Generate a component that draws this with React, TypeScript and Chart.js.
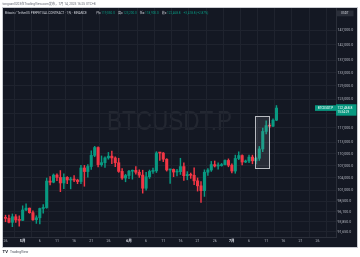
import React, { useEffect, useRef } from 'react';
import { Chart, registerables } from 'chart.js';
Chart.register(...registerables);

// Daily candles, 2025-04-26 .. 2025-07-14 (index = day offset)
const dates = [
  '04-26','04-27','04-28','04-29','04-30',
  '05-01','05-02','05-03','05-04','05-05','05-06','05-07','05-08','05-09','05-10',
  '05-11','05-12','05-13','05-14','05-15','05-16','05-17','05-18','05-19','05-20',
  '05-21','05-22','05-23','05-24','05-25','05-26','05-27','05-28','05-29','05-30','05-31',
  '06-01','06-02','06-03','06-04','06-05','06-06','06-07','06-08','06-09','06-10',
  '06-11','06-12','06-13','06-14','06-15','06-16','06-17','06-18','06-19','06-20',
  '06-21','06-22','06-23','06-24','06-25','06-26','06-27','06-28','06-29','06-30',
  '07-01','07-02','07-03','07-04','07-05','07-06','07-07','07-08','07-09','07-10',
  '07-11','07-12','07-13','07-14'
];
const opens = [
  94646,94630,93750,94980,94280,
  94170,96490,96910,95890,94310,94750,96830,97030,103240,102970,
  104700,104120,102790,104150,103510,103740,103480,103130,106450,105570,
  106830,109640,111670,107290,107790,109000,109440,108980,107770,105610,103980,
  104590,105650,105850,105400,104700,101530,104290,105600,105740,110260,
  110240,108660,105960,106100,105450,105550,106800,104560,104850,104650,
  103300,102100,100950,105400,105950,107300,106950,107050,107300,108350,
  107150,105700,108850,109600,107950,108200,109200,108250,108900,111300,
  115950,117550,117400,119050
];
const highs = [
  95327,95370,95600,95480,95200,
  97440,97900,96940,96320,95200,96900,97730,103970,104330,104980,
  104980,105820,104990,104360,104180,104550,103700,107100,107100,107320,
  110800,111980,111860,109500,109300,110400,110720,109300,108900,106300,104900,
  105880,105950,106800,106000,105900,105350,105950,106460,110600,110400,
  110380,108800,106200,106220,106100,108900,107750,105550,105200,106500,
  104000,103100,106000,106300,108100,108200,107750,107600,108500,108750,
  107500,109700,110550,109750,108450,109700,109700,109200,111950,116850,
  118850,118200,119450,123200
];
const lows = [
  93880,93600,92800,93750,92900,
  94130,96340,95750,94150,93510,93380,95790,96880,102300,102820,
  103330,100720,101420,102600,101380,103100,102610,102610,102000,104180,
  106100,109290,106700,106880,106600,108650,107550,106810,105370,103620,103070,
  103850,103700,104900,104150,100370,101100,103880,105080,105330,108350,
  108050,105680,102660,104300,104500,104850,103400,103550,103900,102350,
  100850,98200,99600,104600,105600,106700,106150,106900,107200,106750,
  105250,105150,108550,107250,107800,107800,107500,107450,108350,110600,
  115250,116950,117250,118900
];
const closes = [
  94630,93750,94980,94280,94170,
  96490,96910,95890,94310,94750,96830,97030,103240,102970,104700,
  104120,102790,104150,103510,103740,103480,103130,106450,105570,106830,
  109640,111670,107290,107790,109000,109440,108980,107770,105610,103980,104590,
  105650,105850,105400,104700,101530,104290,105600,105740,110260,110240,
  108660,105960,106100,105450,105550,106800,104560,104850,104650,103300,
  102100,100950,105400,105950,107300,106950,107050,107300,108350,107150,
  105700,108850,109600,107950,108200,109200,108250,108900,111300,115950,
  117550,117400,119050,122468.8
];

const xTickIndex = [0, 5, 10, 15, 20, 25, 30, 36, 41, 46, 51, 56, 61, 66, 71, 76, 81, 86, 91];
const xTickLabels = ['26', '5月', '6', '11', '16', '21', '26', '6月', '6', '11', '16', '21', '26', '7月', '6', '11', '16', '21', '26'];
const monthLabels = ['5月', '6月', '7月'];
const yTicks = [147000, 142000, 137000, 133000, 129000, 125000, 121000, 117000, 113000, 110000, 107000, 104000, 101000, 98500, 96100, 93850, 91650];
const yHiddenTicks = [121000];

const symbol = 'BTCUSDT.P';
const titleText = 'Bitcoin / TetherUS PERPETUAL CONTRACT · 1天 · BINANCE';
const headerText = 'tongcan0203在TradingView.com发布，7月 14, 2025 16:25 UTC+8';
const countdownText = '15:34:29';
const quoteUnit = 'USDT';
// highlighted rectangle in data coordinates (day index, price)
const boxX = [72.8, 76.9];
const boxY = [106500, 120200];

const fmt1 = (v: number) =>
  v.toLocaleString('en-US', { minimumFractionDigits: 1, maximumFractionDigits: 1 });

export default function App() {
  const ref = useRef<HTMLCanvasElement>(null);

  useEffect(() => {
    const canvas = ref.current;
    if (!canvas) return;
    const UP = '#089981';
    const DOWN = '#f23645';
    const BG = '#141823';
    const GRID = '#1f232e';
    const AXIS_TXT = '#b2b5be';
    const FONT = 'Roboto, "Noto Sans CJK SC", sans-serif';
    const colors = closes.map((c, i) => (c >= opens[i] ? UP : DOWN));
    const last = closes.length - 1;

    const tvPlugin = {
      id: 'tvdecor',
      beforeDraw(chart: any) {
        const ctx = chart.ctx;
        const ca = chart.chartArea;
        ctx.save();
        ctx.fillStyle = '#ffffff';
        ctx.fillRect(0, 0, chart.width, chart.height);
        ctx.fillStyle = BG;
        ctx.fillRect(3, 8, 354, 239);
        ctx.strokeStyle = '#c9cbd1';
        ctx.lineWidth = 1;
        ctx.strokeRect(2.5, 7.5, 355, 240);
        // watermark (width ~125px, cap height ~20px)
        ctx.font = '28px "Liberation Sans", sans-serif';
        ctx.fillStyle = 'rgba(255,255,255,0.065)';
        ctx.textAlign = 'center';
        ctx.textBaseline = 'middle';
        const w = ctx.measureText(symbol).width;
        const sx = 125 / w;
        ctx.translate((ca.left + ca.right) / 2, (ca.top + ca.bottom) / 2);
        ctx.scale(sx, 1);
        ctx.fillText(symbol, 0, 0);
        ctx.restore();
      },
      afterDatasetsDraw(chart: any) {
        const ctx = chart.ctx;
        const xs = chart.scales.x;
        const ys = chart.scales.y;
        const x0 = xs.getPixelForValue(boxX[0]);
        const x1 = xs.getPixelForValue(boxX[1]);
        const y0 = ys.getPixelForValue(boxY[1]);
        const y1 = ys.getPixelForValue(boxY[0]);
        ctx.save();
        ctx.fillStyle = 'rgba(180,184,196,0.13)';
        ctx.fillRect(x0, y0, x1 - x0, y1 - y0);
        ctx.strokeStyle = '#b8bac0';
        ctx.lineWidth = 1;
        ctx.strokeRect(Math.round(x0) + 0.5, Math.round(y0) + 0.5, Math.round(x1 - x0), Math.round(y1 - y0));
        ctx.restore();
      },
      afterDraw(chart: any) {
        const ctx = chart.ctx;
        const ys = chart.scales.y;
        ctx.save();
        ctx.textBaseline = 'middle';
        // top header
        ctx.font = `3.2px ${FONT}`;
        ctx.fillStyle = '#666a75';
        ctx.textAlign = 'left';
        ctx.fillText(headerText, 2.5, 4);
        // legend
        ctx.font = `3.1px ${FONT}`;
        ctx.fillStyle = '#d1d4dc';
        ctx.fillText(titleText, 5, 13);
        const prev = closes[last - 1];
        const chg = closes[last] - prev;
        const pct = (chg / prev) * 100;
        const vcol = closes[last] >= opens[last] ? UP : DOWN;
        const parts: [string, string][] = [
          ['开=', fmt1(opens[last])],
          ['高=', fmt1(highs[last])],
          ['低=', fmt1(lows[last])],
          ['收=', fmt1(closes[last])],
        ];
        let x = 96;
        parts.forEach(([lab, val]) => {
          ctx.fillStyle = '#d1d4dc';
          ctx.fillText(lab, x, 13);
          x += ctx.measureText(lab).width + 0.5;
          ctx.fillStyle = vcol;
          ctx.fillText(val, x, 13);
          x += ctx.measureText(val).width + 3;
        });
        ctx.fillStyle = vcol;
        ctx.fillText(`${chg >= 0 ? '+' : ''}${fmt1(chg)} (${chg >= 0 ? '+' : ''}${pct.toFixed(2)}%)`, x, 13);
        // quote unit button
        ctx.fillStyle = '#2a2e39';
        ctx.fillRect(336, 10.5, 17.5, 5.8);
        ctx.fillStyle = '#d1d4dc';
        ctx.font = `3px ${FONT}`;
        ctx.textAlign = 'center';
        ctx.fillText(quoteUnit, 344.75, 13.5);
        // last price label
        const yC = ys.getPixelForValue(closes[last]);
        ctx.fillStyle = vcol;
        ctx.fillRect(336, yC - 3.8, 20.5, 11.4);
        ctx.fillRect(315, yC - 2.8, 21, 5.6);
        ctx.fillStyle = '#ffffff';
        ctx.font = `3.4px ${FONT}`;
        ctx.textAlign = 'left';
        ctx.fillText(fmt1(closes[last]), 337.5, yC);
        ctx.font = `3px ${FONT}`;
        ctx.fillText(countdownText, 337.5, yC + 4.4);
        ctx.textAlign = 'center';
        ctx.fillText(symbol, 325.5, yC);
        // TradingView logo
        ctx.textAlign = 'left';
        ctx.fillStyle = '#131722';
        ctx.font = `bold 4.2px ${FONT}`;
        ctx.fillText('TV', 2.5, 252);
        ctx.fillStyle = '#4a4e5a';
        ctx.font = `3.3px ${FONT}`;
        ctx.fillText('TradingView', 10, 252);
        ctx.restore();
      },
    };

    const chart = new Chart(canvas, {
      type: 'bar',
      data: {
        labels: dates,
        datasets: [
          {
            label: 'bodies',
            data: dates.map((_, i) => ({ x: i, y: [opens[i], closes[i]] })) as any,
            backgroundColor: colors,
            barThickness: 2.4,
            minBarLength: 1,
            grouped: false,
            borderWidth: 0,
            order: 0,
          },
          {
            label: 'wicks',
            data: dates.map((_, i) => ({ x: i, y: [lows[i], highs[i]] })) as any,
            backgroundColor: colors,
            barThickness: 0.8,
            grouped: false,
            borderWidth: 0,
            order: 1,
          },
        ],
      },
      options: {
        responsive: false,
        animation: false,
        devicePixelRatio: 1,
        layout: { padding: { left: 3, top: 8, right: 3, bottom: 10 } },
        plugins: { legend: { display: false }, tooltip: { enabled: false } },
        scales: {
          x: {
            type: 'linear',
            min: -0.73,
            max: 96.36,
            offset: false,
            afterBuildTicks: (s: any) => {
              s.ticks = xTickIndex.map((v) => ({ value: v }));
            },
            afterFit: (s: any) => {
              s.height = 10;
            },
            ticks: {
              autoSkip: false,
              maxRotation: 0,
              padding: 2.2,
              callback: (v: any) => {
                const k = xTickIndex.indexOf(Number(v));
                return k >= 0 ? xTickLabels[k] : '';
              },
              color: (c: any) => (monthLabels.includes(c.tick && c.tick.label) ? '#e0e3eb' : AXIS_TXT),
              font: (c: any) => ({
                family: FONT,
                size: 3.6,
                weight: monthLabels.includes(c.tick && c.tick.label) ? 'bold' : 'normal',
              }),
            },
            grid: { color: GRID, drawTicks: false, lineWidth: 1 },
            border: { display: true, color: '#2a2e39' },
          },
          y: {
            type: 'logarithmic',
            position: 'right',
            min: 90584,
            max: 154770,
            afterBuildTicks: (s: any) => {
              s.ticks = yTicks.map((v) => ({ value: v }));
            },
            afterFit: (s: any) => {
              s.width = 21;
            },
            ticks: {
              autoSkip: false,
              padding: 1.5,
              color: AXIS_TXT,
              font: { family: FONT, size: 3.6 },
              callback: (v: any) => (yHiddenTicks.includes(Number(v)) ? '' : fmt1(Number(v))),
            },
            grid: { color: GRID, drawTicks: false, lineWidth: 1 },
            border: { display: true, color: '#2a2e39' },
          },
        },
      } as any,
      plugins: [tvPlugin as any],
    });
    return () => chart.destroy();
  }, []);

  return (
    <div style={{ position: 'fixed', left: 0, top: 0, width: 360, height: 257, background: '#fff' }}>
      <canvas ref={ref} width={360} height={257} style={{ display: 'block', width: 360, height: 257 }} />
    </div>
  );
}
